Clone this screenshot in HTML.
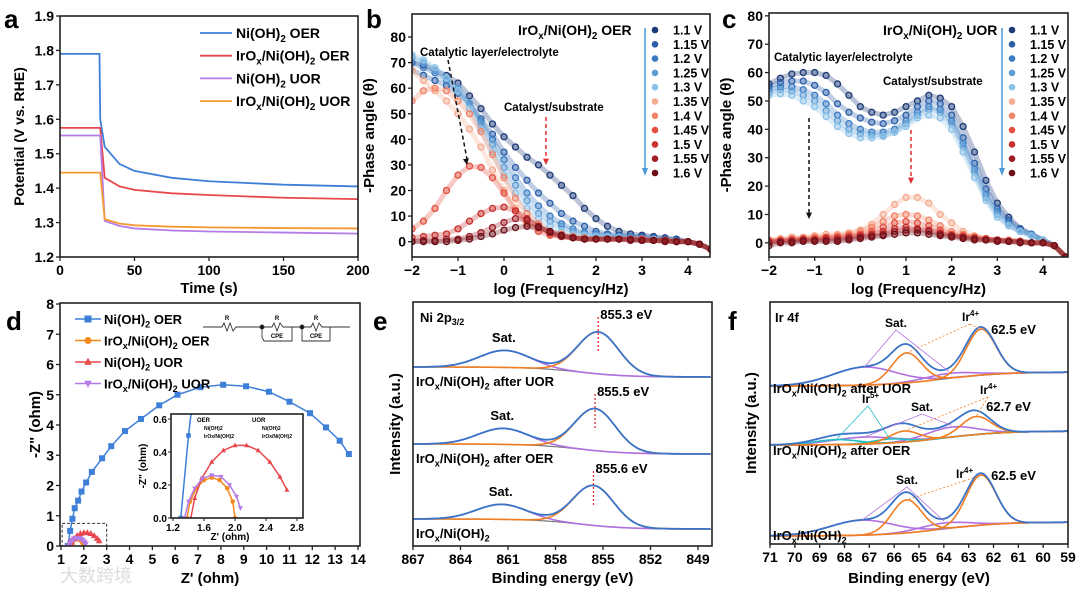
<!DOCTYPE html>
<html><head><meta charset="utf-8">
<style>
html,body{margin:0;padding:0;background:#fff;}
svg{display:block;font-family:"Liberation Sans","Noto Sans CJK SC",sans-serif;font-weight:bold;}
</style></head>
<body>
<svg id="fig" width="1080" height="592" viewBox="0 0 1080 592" xmlns="http://www.w3.org/2000/svg"></svg>
<script>
// ---------- DATA ----------
const aTime = [0,26.5,27,30,40,50,75,100,150,200];
const aNiOER = [1.79,1.79,1.60,1.52,1.47,1.45,1.43,1.42,1.41,1.405];
const aIrOER = [1.575,1.575,1.575,1.43,1.405,1.395,1.385,1.38,1.372,1.368];
const aNiUOR = [1.553,1.553,1.553,1.305,1.29,1.283,1.277,1.274,1.271,1.268];
const aIrUOR = [1.445,1.445,1.445,1.31,1.297,1.292,1.288,1.286,1.284,1.283];
const aNames = ["Ni(OH)2 OER","IrOx/Ni(OH)2 OER","Ni(OH)2 UOR","IrOx/Ni(OH)2 UOR"];
const aYTicks = [1.2,1.3,1.4,1.5,1.6,1.7,1.8,1.9];
const aXTicks = [0,50,100,150,200];
const logF = [-2,-1.75,-1.5,-1.25,-1,-0.75,-0.5,-0.25,0,0.25,0.5,0.75,1,1.25,1.5,1.75,2,2.25,2.5,2.75,3,3.25,3.5,3.75,4,4.25,4.5];
const voltages = ["1.1 V","1.15 V","1.2 V","1.25 V","1.3 V","1.35 V","1.4 V","1.45 V","1.5 V","1.55 V","1.6 V"];
const bPhase = [
[70,69,67,65,62,57,52,46,41,37,33,30,26,22,18,13,9,6,4,3,2.5,2,1.5,1,0,-1,-3],
[67,65,63,61,58,54,48,42,35,29,24,19,15,11,8,6,4,3,2.5,2,2,1.5,1,0.5,0,-1,-3],
[70,68,66,63,59,54,47,40,32,25,19,14,10,7,5,3.5,3,2.5,2,2,1.5,1,1,0.5,0,-1,-3],
[72,70,67,64,60,54,46,38,29,22,16,11,8,6,4,3,2.5,2,2,1.5,1,1,0.5,0,0,-1,-3],
[73,71,68,64,59,52,44,35,26,19,13,9,6,4,3,2.5,2,2,1.5,1,1,1,0.5,0,0,-1,-3],
[67,63,59,55,50,44,37,28,20,13,8,5,3,2,1.5,1,1,1,1,1,1,0.5,0.5,0,0,-1,-3],
[55,59,60,59,55,50,43,34,25,17,11,7,4,3,2,1.5,1,1,1,1,1,0.5,0.5,0,0,-1,-3],
[5,8,13,20,26,29.5,29,25,19,12,7,4,2.5,2,1.5,1,1,1,1,1,1,0.5,0.5,0,0,-1,-3],
[1.5,2,2.5,3,5,8,11,13,13.5,12,9,6,3.5,2,1.5,1,1,1,1,1,0.5,0.5,0.5,0,0,-1,-3],
[0,0.5,0.5,1,1,2,3.5,5.5,7.5,9,8.5,6,3.5,2,1.5,1,1,1,1,1,0.5,0.5,0.5,0,0,-1,-3],
[0,0,0,0,0.5,1,2,3,4.5,5.5,6,5.5,4,2.5,1.5,1,1,1,1,0.5,0.5,0.5,0,0,0,-1,-3]];
const cPhase = [
[56,58,59.5,60,60,59,56,52,48,46,45,46,48,50,52,51,48,41,32,22,14,9,5,3,1,-1,-5],
[55,56.5,57,57,55.5,53,49,46,44,42.5,42,43,45,48,50,49,45,37,28,19,12,8,5,3,1,-1,-5],
[54,55,55,54,52,49,45,42,40,39,39,40,43,46,48,47,43,35,26,17,11,7,4,3,1,-1,-5],
[53,54,53.5,52,50,46.5,43,40,38.5,38,38,39,42,45,47,46,42,34,25,16,10,6,4,2.5,1,-1,-5],
[52,52.5,52,50,48,44.5,41,38.5,37,37,37.5,39,41,44,45,44,40,32,23,15,9,6,4,2.5,1,-1,-5],
[1,1.5,2,2,2.5,3,3,3.5,4.5,6.5,10,13.5,16,16,14,10,7,4,2.5,1.5,1,1,0.5,0,0,-1,-5],
[1,1,1.5,1.5,2,2,2.5,3,4,5.5,7.5,9.5,10,9.5,8,6,4,3,2,1.5,1,1,0.5,0,0,-1,-5],
[0.5,1,1,1.5,1.5,2,2,2.5,3,4,5.5,7,7.5,7,6,4.5,3,2.5,2,1.5,1,0.5,0.5,0,0,-1,-5],
[0.5,0.5,1,1,1,1.5,1.5,2,2.5,3,4,5,5.5,5,4.5,3.5,2.5,2,1.5,1,1,0.5,0.5,0,0,-1,-5],
[0,0.5,0.5,1,1,1,1,1.5,2,2.5,3,4,4.5,4.5,4,3,2.5,2,1.5,1,1,0.5,0.5,0,0,-1,-5],
[-1,0,0,0.5,0.5,0.5,0.5,1,1.5,2,2.5,3,3.5,3.5,3,2.5,2,1.5,1,1,0.5,0.5,0,0,0,-1,-5]];
const bcXTicks = [-2,-1,0,1,2,3,4];
const bYTicks = [0,10,20,30,40,50,60,70,80];
const dNiOERx = [1.3,1.4,1.5,1.6,1.75,1.9,2.1,2.35,2.8,3.2,3.8,4.5,5.3,6.1,7.1,8.1,9.1,10.1,11,11.9,12.6,13.2,13.6];
const dNiOERy = [0,0.5,0.9,1.25,1.5,1.8,2.1,2.45,2.9,3.3,3.8,4.2,4.65,5.0,5.25,5.33,5.28,5.1,4.77,4.39,3.92,3.48,3.04];
const dIrOERx = [1.38,1.42,1.5,1.6,1.7,1.8,1.9,1.97,2.0];
const dIrOERy = [0,0.1,0.18,0.23,0.245,0.23,0.18,0.1,0];
const dNiUORx = [1.43,1.48,1.57,1.7,1.85,2.0,2.15,2.3,2.45,2.58,2.67];
const dNiUORy = [0,0.12,0.24,0.34,0.41,0.44,0.44,0.41,0.34,0.25,0.17];
const dIrUORx = [1.35,1.4,1.48,1.58,1.7,1.82,1.93,2.02,2.07];
const dIrUORy = [0,0.1,0.18,0.24,0.26,0.25,0.2,0.13,0.06];
const dXTicks = [1,2,3,4,5,6,7,8,9,10,11,12,13,14];
const dYTicks = [0,1,2,3,4,5,6,7,8];
const dInsetXTicks = [1.2,1.6,2.0,2.4,2.8];
const dInsetYTicks = [0.0,0.2,0.4,0.6];
const eLabels = ["IrOx/Ni(OH)2 after UOR","IrOx/Ni(OH)2 after OER","IrOx/Ni(OH)2"];
const eMainCenter = [855.3,855.5,855.6];
const eMainHeight = [42,42,40];
const eSatCenter = [861.2,861.3,861.4];
const eSatHeight = [17,16,15];
const eBaseline = [377,454,529];
const eXTicks = [867,864,861,858,855,852,849];
const fLabels = ["IrOx/Ni(OH)2 after UOR","IrOx/Ni(OH)2 after OER","IrOx/Ni(OH)2"];
const fIr4aCenter = [62.5,62.7,62.5];
const fIr4aHeight = [46,18,50];
const fIr4bCenter = [65.5,65.6,65.5];
const fIr4bHeight = [30,11,33];
const fSatACenter = [67.2,67.2,67.3];
const fSatAHeight = [18,7,15];
const fSatBCenter = [63.8,63.7,64.0];
const fSatBHeight = [5,10,6];
const fIr5aCenter = [66.2,66.2,66.2];
const fIr5aHeight = [0,4,0];
const fIr5bCenter = [68.3,68.3,68.3];
const fIr5bHeight = [0,5,0];
const fBaseline = [386,445,536];
const fXTicks = [71,70,69,68,67,66,65,64,63,62,61,60,59];

// ---------- HELPERS ----------
const NS="http://www.w3.org/2000/svg";
const svg=document.getElementById('fig');
function el(tag,attrs,parent){const e=document.createElementNS(NS,tag);for(const k in attrs)e.setAttribute(k,attrs[k]);(parent||svg).appendChild(e);return e;}
function txt(s,x,y,size,anchor,parent,extra){const t=el('text',Object.assign({x:x,y:y,'font-size':size,'text-anchor':anchor||'start'},extra||{}),parent);t.textContent=s;return t;}
function lin(d0,d1,r0,r1){return v=>r0+(v-d0)*(r1-r0)/(d1-d0);}
function gauss(x,c,h,s){return h*Math.exp(-0.5*((x-c)/s)**2);}
function chemLabel(s,x,y,size,anchor,parent){
  const t=el('text',{x:x,y:y,'font-size':size,'text-anchor':anchor||'start'},parent);
  const tokens=[];
  s.split(/(Ox|H\)2)/).forEach(p=>{
    if(p==='Ox'){tokens.push(['O',0]);tokens.push(['x',1]);}
    else if(p==='H)2'){tokens.push(['H)',0]);tokens.push(['2',1]);}
    else if(p){tokens.push([p,0]);}
  });
  let cur=0;
  tokens.forEach(([str,sub])=>{
    const want=sub?size*0.28:0;
    const a=el('tspan',{},t);
    if(want!==cur){a.setAttribute('dy',want-cur);cur=want;}
    if(sub)a.setAttribute('font-size',size*0.7);
    a.textContent=str;
  });
  return t;
}
function frame(g,x0,y0,x1,y1){el('rect',{x:x0,y:y0,width:x1-x0,height:y1-y0,fill:'none',stroke:'#222','stroke-width':1.6},g);}
function xTicks(g,ticks,sx,y1,fmt,size){ticks.forEach(v=>{const x=sx(v);el('line',{x1:x,x2:x,y1:y1,y2:y1+4,stroke:'#222','stroke-width':1.3},g);txt(fmt?fmt(v):String(v),x,y1+18,size||14,'middle',g);});}
function yTicks(g,ticks,sy,x0,fmt,size){ticks.forEach(v=>{const y=sy(v);el('line',{x1:x0-4,x2:x0,y1:y,y2:y,stroke:'#222','stroke-width':1.3},g);txt(fmt?fmt(v):String(v),x0-6,y+5,size||14,'end',g);});}

// ---------- PANEL A ----------
(function(){
const g=el('g',{});  
const x0=60,x1=358,y0=16,y1=257;
const sx=lin(0,200,x0,x1), sy=lin(1.2,1.9,y1,y0);
const cols=['#3d7fd9','#e8474c','#b57be6','#f59a33'];
const series=[aNiOER,aIrOER,aNiUOR,aIrUOR];
series.forEach((s,i)=>{
  const p=el('polyline',{points:aTime.map((t,j)=>sx(t)+','+sy(s[j])).join(' '),fill:'none',stroke:cols[i],'stroke-width':1.8},g);
   
});
frame(g,x0,y0,x1,y1);
xTicks(g,aXTicks,sx,y1);
yTicks(g,aYTicks,sy,x0,v=>v.toFixed(1));
txt('Time (s)',(x0+x1)/2,293,15,'middle',g);
const yl=txt('Potential (V vs. RHE)',0,0,14,'middle',g); yl.setAttribute('transform','translate(24,'+((y0+y1)/2)+') rotate(-90)');

txt('a',4,28,26,'start',g);
aNames.forEach((n,i)=>{
  const y=33+i*22.7;
  el('line',{x1:200,x2:232,y1:y,y2:y,stroke:cols[i],'stroke-width':1.8},g);
  const t=chemLabel(n,236,y+5,14,'start',g);  
});
})();

// ---------- PANELS B, C ----------
const vCols=['#1d3a78','#2a5ea8','#3a7cc2','#5c9dd4','#8cc2e8','#f5ab90','#f28468','#e3503f','#c8302c','#9e1c26','#6b1019'];
function phasePanel(data,x0,x1,y0,y1,yMin,yMax,xZero,xFour,title,letter,lx,tx,arrowX){
  const g=el('g',{});  
  const sx=lin(-2,4,xZero,xFour), sy=lin(yMin,yMax,y1,y0);
  const clip='clip'+letter;
  const cp=el('clipPath',{id:clip},g); el('rect',{x:x0,y:y0,width:x1-x0,height:y1-y0},cp);
  const dg=el('g',{'clip-path':'url(#'+clip+')'},g);
  data.forEach((s,i)=>{
    el('polyline',{points:logF.map((f,j)=>sx(f)+','+sy(s[j])).join(' '),fill:'none',stroke:vCols[i],'stroke-width':5,'stroke-opacity':0.3,'stroke-linejoin':'round'},dg);
    logF.forEach((f,j)=>{
      const c=el('circle',{cx:sx(f),cy:sy(s[j]),r:3,fill:vCols[i],'fill-opacity':0.3,stroke:vCols[i],'stroke-width':1.3},dg);
      
      
    });
  });
  frame(g,x0,y0,x1,y1);
  xTicks(g,bcXTicks,sx,y1,v=>v<0?'\u2212'+(-v):String(v));
  yTicks(g,bYTicks,sy,x0);
  txt('log (Frequency/Hz)',(x0+x1)/2,294,15,'middle',g);
  const yl=txt('-Phase angle (\u03b8)',0,0,15,'middle',g); yl.setAttribute('transform','translate('+(x0-38)+','+((y0+y1)/2)+') rotate(-90)');
  txt(letter,lx,28,26,'start',g);
  chemLabel(title,tx,35,14,'start',g);
  el('line',{x1:arrowX,x2:arrowX,y1:28,y2:170,stroke:'#4a9ad8','stroke-width':1.5},g);
  el('polygon',{points:(arrowX-3)+',168 '+(arrowX+3)+',168 '+arrowX+',176',fill:'#4a9ad8'},g);
  voltages.forEach((v,i)=>{
    const y=30+i*14.3;
    el('circle',{cx:arrowX+10,cy:y,r:3.3,fill:vCols[i]},g);
    const t=txt(v,arrowX+28,y+4.5,12.5,'start',g);  
  });
  return {g,sx,sy};
}
function dashArrow(g,x1,y1,x2,y2,col){
  el('line',{x1:x1,y1:y1,x2:x2,y2:y2-6,stroke:col,'stroke-width':1.5,'stroke-dasharray':'4,3'},g);
  const ang=Math.atan2(y2-y1,x2-x1);const a1=ang+2.7,a2=ang-2.7;
  el('polygon',{points:x2+','+y2+' '+(x2+7*Math.cos(a1))+','+(y2+7*Math.sin(a1))+' '+(x2+7*Math.cos(a2))+','+(y2+7*Math.sin(a2)),fill:col},g);
}
(function(){
const p=phasePanel(bPhase,412,710,14,257,-6,89,412,688,'IrOx/Ni(OH)2 OER','b',366,518,645);
txt('Catalytic layer/electrolyte',420,56,11.5,'start',p.g);
txt('Catalyst/substrate',504,111,11.5,'start',p.g);
dashArrow(p.g,448,60,467,165,'#111');
dashArrow(p.g,546,117,546,165,'#e03030');
})();
(function(){
const p=phasePanel(cPhase,769,1068,13,257,-5,81,769,1043,'IrOx/Ni(OH)2 UOR','c',722,883,1002);
txt('Catalytic layer/electrolyte',774,61,11.5,'start',p.g);
txt('Catalyst/substrate',883,85,11.5,'start',p.g);
dashArrow(p.g,809,118,809,219,'#111');
dashArrow(p.g,911,130,911,184,'#e03030');
})();

// ---------- PANEL D ----------
(function(){
const g=el('g',{});  
const x0=60,x1=360,y0=303,y1=546;
const sx=lin(1,14,61,358), sy=lin(0,8,546,304);
const cols=['#3d7fd9','#f58a1f','#e8474c','#b57be6'];
function marker(gg,x,y,k,s){
  if(k===0) return el('rect',{x:x-s,y:y-s,width:2*s,height:2*s,fill:cols[0]},gg);
  if(k===1) return el('circle',{cx:x,cy:y,r:s,fill:cols[1]},gg);
  if(k===2) return el('polygon',{points:x+','+(y-s*1.2)+' '+(x-s*1.1)+','+(y+s*0.8)+' '+(x+s*1.1)+','+(y+s*0.8),fill:cols[2]},gg);
  return el('polygon',{points:x+','+(y+s*1.2)+' '+(x-s*1.1)+','+(y-s*0.8)+' '+(x+s*1.1)+','+(y-s*0.8),fill:cols[3]},gg);
}
const sets=[[dNiOERx,dNiOERy],[dIrOERx,dIrOERy],[dNiUORx,dNiUORy],[dIrUORx,dIrUORy]];
function drawSets(gg,fx,fy,sz){
  sets.forEach((s,k)=>{
    el('polyline',{points:s[0].map((x,j)=>fx(x)+','+fy(s[1][j])).join(' '),fill:'none',stroke:cols[k],'stroke-width':1.5},gg);
    s[0].forEach((x,j)=>{const m=marker(gg,fx(x),fy(s[1][j]),k,sz);});
  });
}
const cp=el('clipPath',{id:'clipd'},g); el('rect',{x:x0,y:y0,width:x1-x0,height:y1-y0},cp);
const dg=el('g',{'clip-path':'url(#clipd)'},g);
drawSets(dg,sx,sy,3);
el('rect',{x:sx(1.05),y:sy(0.75),width:sx(3)-sx(1.05),height:sy(0)-sy(0.75),fill:'none',stroke:'#333','stroke-width':1,'stroke-dasharray':'3,2'},g);
frame(g,x0,y0,x1,y1);
xTicks(g,dXTicks,sx,y1);
yTicks(g,dYTicks,sy,x0);
txt("Z' (ohm)",210,583,15,'middle',g);
const yl=txt('-Z" (ohm)',0,0,15,'middle',g); yl.setAttribute('transform','translate(40,'+((y0+y1)/2)+') rotate(-90)');
txt('d',6,330,26,'start',g);
const lg=['Ni(OH)2 OER','IrOx/Ni(OH)2 OER','Ni(OH)2 UOR','IrOx/Ni(OH)2 UOR'];
lg.forEach((n,i)=>{const y=319+i*21.5;el('line',{x1:75,x2:101,y1:y,y2:y,stroke:cols[i],'stroke-width':1.5},g);marker(g,88,y,i,3.5);const t=chemLabel(n,104,y+5,13,'start',g);});
const cg=el('g',{stroke:'#333','stroke-width':0.9,fill:'none'},g);
el('polyline',{points:'203,327 222,327 224,323 227,331 230,323 233,331 236,327 262,327 262,337 264,341 292,341 292,327 302,327 302,341 330,341 330,327 350,327'},cg);
el('polyline',{points:'262,327 272,327 274,323 277,331 280,323 283,327 292,327'},cg);
el('polyline',{points:'302,327 311,327 313,323 316,331 319,323 322,327 330,327'},cg);
el('circle',{cx:262,cy:327,r:2,fill:'#111'},cg);el('circle',{cx:302,cy:327,r:2,fill:'#111'},cg);
txt('R',227,320,6,'middle',g);txt('R',277,320,6,'middle',g);txt('R',316,320,6,'middle',g);
txt('CPE',277,338,6,'middle',g);txt('CPE',316,338,6,'middle',g);
const ix0=171,ix1=303,iy0=414,iy1=518;
const isx=lin(1.2,2.8,173,297), isy=lin(0,0.6,518,419);
el('rect',{x:ix0,y:iy0,width:ix1-ix0,height:iy1-iy0,fill:'#fff'},g);
const icp=el('clipPath',{id:'clipi'},g); el('rect',{x:ix0,y:iy0,width:ix1-ix0,height:iy1-iy0},icp);
const ig=el('g',{'clip-path':'url(#clipi)'},g);  
drawSets(ig,isx,isy,2.3);
frame(g,ix0,iy0,ix1,iy1);
dInsetXTicks.forEach(v=>{const x=isx(v);el('line',{x1:x,x2:x,y1:iy1,y2:iy1+3,stroke:'#222'},g);txt(v.toFixed(1),x,iy1+13,10,'middle',g);});
dInsetYTicks.forEach(v=>{const y=isy(v);el('line',{x1:ix0-3,x2:ix0,y1:y,y2:y,stroke:'#222'},g);txt(v.toFixed(1),ix0-4,y+4,10,'end',g);});
txt("Z' (ohm)",230,540,10,'middle',g);
const iyl=txt('-Z" (ohm)',0,0,10,'middle',g); iyl.setAttribute('transform','translate(146,466) rotate(-90)');
txt('OER',197,422,6,'start',g);txt('UOR',252,422,6,'start',g);
txt('Ni(OH)2',204,430,5,'start',g);txt('IrOx/Ni(OH)2',204,438,5,'start',g);
txt('Ni(OH)2',262,430,5,'start',g);txt('IrOx/Ni(OH)2',262,438,5,'start',g);
const wm=txt('\u5927\u6570\u8de8\u5883',60,582,18,'start',g,{fill:'#ddd','font-weight':'normal'}); 
})();

// ---------- PANELS E, F ----------
const xpsBlue='#3a74c8', xpsOrange='#f07d22', xpsPurple='#b070e0', xpsGray='#777', xpsCyan='#22c0c0';
function curve(g,xs,sx,fn,col,w){el('polyline',{points:xs.map(x=>sx(x).toFixed(1)+','+fn(x).toFixed(1)).join(' '),fill:'none',stroke:col,'stroke-width':w||1.6},g);}
(function(){
const g=el('g',{});  
const x0=413,x1=712,y0=302,y1=546;
const sx=lin(867,849,413,698);
const xs=[];for(let e=867;e>=848.1;e-=0.1)xs.push(e);
eBaseline.forEach((b,i)=>{
  const bg=x=>b-10/(1+Math.exp((856.5-x)/1.5));
  const sg=el('g',{},g);  
  curve(sg,xs,sx,bg,xpsGray,1.2);
  curve(sg,xs,sx,x=>bg(x)-gauss(x,eSatCenter[i],eSatHeight[i],1.6),xpsPurple);
  curve(sg,xs,sx,x=>bg(x)-gauss(x,eMainCenter[i],eMainHeight[i],1.3),xpsOrange);
  curve(sg,xs,sx,x=>bg(x)-gauss(x,eMainCenter[i],eMainHeight[i],1.3)-gauss(x,eSatCenter[i],eSatHeight[i],1.6),xpsBlue,1.8);
  const px=sx(eMainCenter[i]), pt=b-eMainHeight[i]-6;
  el('line',{x1:px,x2:px,y1:pt-12,y2:pt+22,stroke:'#e83030','stroke-width':1.3,'stroke-dasharray':'2,2'},sg);
  txt(eMainCenter[i].toFixed(1)+' eV',px+2,pt-10,13,'start',sg);
  txt('Sat.',sx(eSatCenter[i])-1,b-10-eSatHeight[i]-8,13,'middle',sg);
  chemLabel(eLabels[i],416,b+9,13,'start',sg);
});
frame(g,x0,y0,x1,y1);
xTicks(g,eXTicks,sx,y1);
txt('Binding energy (eV)',(x0+x1)/2,583,15,'middle',g);
const yl=txt('Intensity (a.u.)',0,0,15,'middle',g); yl.setAttribute('transform','translate(400,'+((y0+y1)/2)+') rotate(-90)');
txt('e',373,330,26,'start',g);
const t=txt('Ni 2p',420,322,13,'start',g); const s=el('tspan',{'font-size':9,dy:3},t); s.textContent='3/2';
})();
(function(){
const g=el('g',{});  
const x0=770,x1=1068,y0=302,y1=544;
const sx=lin(71,59,770,1068);
const xs=[];for(let e=71;e>=59;e-=0.05)xs.push(e);
const ann=[[896,327,968,321],[922,411,986,394],[907,484,962,478]];
fBaseline.forEach((b,i)=>{
  const bg=x=>b-14/(1+Math.exp((x-64)/1.2));
  const sg=el('g',{},g);  
  const ir4=x=>gauss(x,fIr4aCenter[i],fIr4aHeight[i],0.6)+gauss(x,fIr4bCenter[i],fIr4bHeight[i],0.6);
  const sat=x=>gauss(x,fSatACenter[i],fSatAHeight[i],1.3)+gauss(x,fSatBCenter[i],fSatBHeight[i],1.0);
  const ir5=x=>gauss(x,fIr5aCenter[i],fIr5aHeight[i],0.7)+gauss(x,fIr5bCenter[i],fIr5bHeight[i],0.9);
  curve(sg,xs,sx,bg,xpsGray,1.2);
  curve(sg,xs,sx,x=>bg(x)-gauss(x,fSatACenter[i],fSatAHeight[i],1.3),xpsPurple);
  curve(sg,xs,sx,x=>bg(x)-gauss(x,fSatBCenter[i],fSatBHeight[i],1.0),xpsPurple);
  if(fIr5aHeight[i]>0){curve(sg,xs,sx,x=>bg(x)-gauss(x,fIr5aCenter[i],fIr5aHeight[i],0.7),xpsCyan);curve(sg,xs,sx,x=>bg(x)-gauss(x,fIr5bCenter[i],fIr5bHeight[i],0.9),xpsCyan);}
  curve(sg,xs,sx,x=>bg(x)-gauss(x,fIr4aCenter[i],fIr4aHeight[i],0.6),xpsOrange);
  curve(sg,xs,sx,x=>bg(x)-gauss(x,fIr4bCenter[i],fIr4bHeight[i],0.6),xpsOrange);
  curve(sg,xs,sx,x=>bg(x)-ir4(x)-sat(x)-ir5(x),xpsBlue,1.8);
  const [sX,sY,iX,iY]=ann[i];
  txt(fIr4aCenter[i].toFixed(1)+' eV',sx(fIr4aCenter[i])+10,b-fIr4aHeight[i]-(i===1?16:6),13,'start',sg);
  const tI=txt('Ir',iX-6,iY,12,'start',sg); const sp=el('tspan',{'font-size':8,dy:-5},tI); sp.textContent='4+';
  txt('Sat.',sX,sY,12,'middle',sg);
  el('polyline',{points:(iX+2)+','+(iY+3)+' '+sx(fIr4aCenter[i])+','+(bg(fIr4aCenter[i])-fIr4aHeight[i]),fill:'none',stroke:xpsOrange,'stroke-width':0.8,'stroke-dasharray':'2,2'},sg);
  el('polyline',{points:(iX+2)+','+(iY+3)+' '+sx(fIr4bCenter[i])+','+(bg(fIr4bCenter[i])-fIr4bHeight[i]),fill:'none',stroke:xpsOrange,'stroke-width':0.8,'stroke-dasharray':'2,2'},sg);
  el('polyline',{points:sx(fSatACenter[i])+','+(bg(fSatACenter[i])-fSatAHeight[i])+' '+sX+','+(sY+3)+' '+sx(fSatBCenter[i])+','+(bg(fSatBCenter[i])-fSatBHeight[i]-2),fill:'none',stroke:xpsPurple,'stroke-width':0.8},sg);
  if(i===1){const t5=txt('Ir',862,403,12,'start',sg);const s5=el('tspan',{'font-size':8,dy:-5},t5);s5.textContent='5+';
    el('polyline',{points:sx(68.3)+','+(bg(68.3)-6)+' '+868+','+406+' '+sx(66.2)+','+(bg(66.2)-5),fill:'none',stroke:xpsCyan,'stroke-width':0.8},sg);}
  chemLabel(fLabels[i],773,b+[7,10,4][i],13,'start',sg);
});
frame(g,x0,y0,x1,y1);
xTicks(g,fXTicks,sx,y1);
txt('Binding energy (eV)',(x0+x1)/2,583,15,'middle',g);
const yl=txt('Intensity (a.u.)',0,0,15,'middle',g); yl.setAttribute('transform','translate(756,'+((y0+y1)/2)+') rotate(-90)');
txt('f',728,330,26,'start',g);
txt('Ir 4f',775,322,13,'start',g);
})();
</script>
</body></html>
